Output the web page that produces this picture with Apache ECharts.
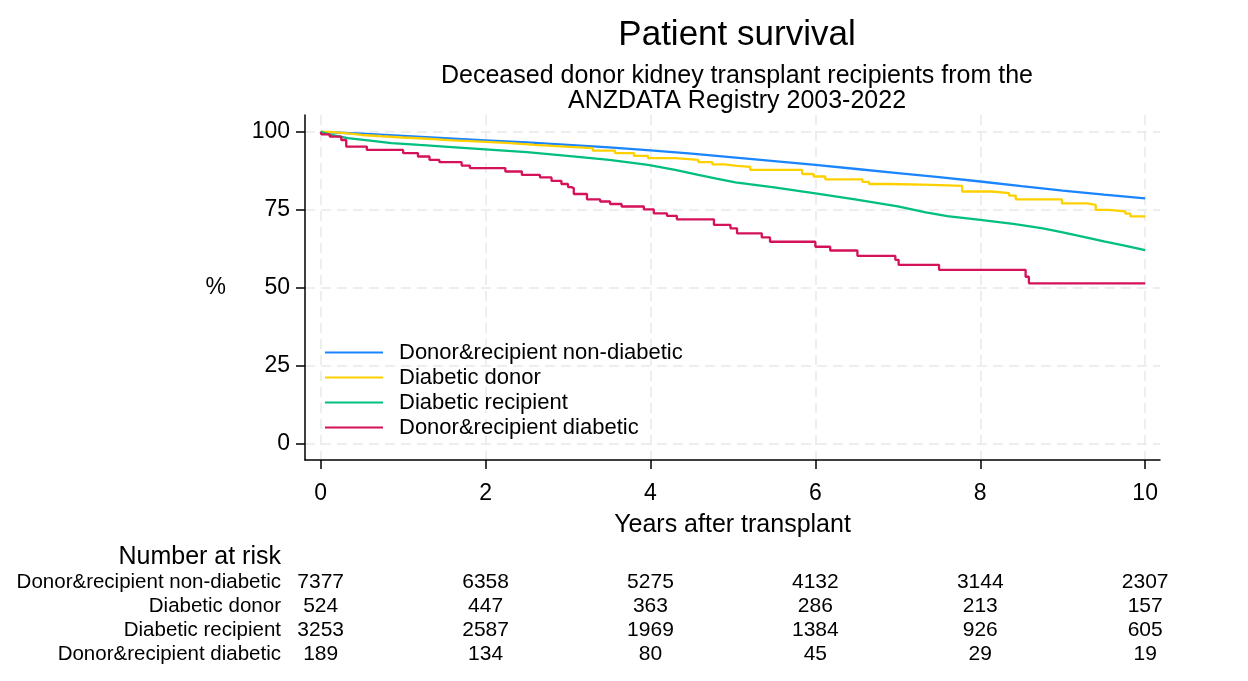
<!DOCTYPE html>
<html>
<head>
<meta charset="utf-8">
<script src="https://cdn.jsdelivr.net/npm/echarts@6/dist/echarts.min.js"></script>
<style>
html,body{margin:0;padding:0;background:#fff;}
#chart{width:1248px;height:681px;}
</style>
</head>
<body>
<div id="chart"></div>
<script>
const seriesNames = ['Donor&recipient non-diabetic','Diabetic donor','Diabetic recipient','Donor&recipient diabetic'];
const seriesColors = ['#1a85ff','#ffd000','#00bf7f','#d41159'];

// Kaplan-Meier estimates: [years, survival %]
const survNonDiabetic = [[0,100],[0.5,99.4],[1,98.7],[1.5,98.0],[2,97.3],[2.5,96.6],[3,95.8],[3.5,95.0],[4,94.1],[4.5,93.0],[5,91.8],[5.5,90.6],[6,89.4],[6.5,88.1],[7,86.8],[7.5,85.5],[8,84.1],[8.5,82.6],[9,81.2],[9.5,79.9],[10,78.7]];
const survDiabeticDonor = [[0,100],[0.1,99.6],[0.3,99.0],[0.5,98.6],[0.74,98.2],[1.0,97.8],[1.3,97.3],[1.6,96.9],[1.95,96.4],[2.3,95.8],[2.6,95.3],[2.96,94.8],[3.3,94.0],[3.57,93.2],[3.8,92.3],[3.97,91.6],[4.3,91.0],[4.58,90.3],[4.75,89.6],[4.9,89.1],[5.05,88.8],[5.21,87.8],[5.84,86.5],[5.98,85.7],[6.12,84.8],[6.57,84.0],[6.65,83.3],[6.89,83.0],[7.42,82.7],[7.78,80.9],[8.14,80.4],[8.35,79.6],[8.43,78.4],[8.99,77.1],[9.3,76.6],[9.40,75.0],[9.56,74.5],[9.76,73.8],[9.82,72.9],[10,72.9]];
const survDiabeticRecipient = [[0,100],[0.1,99.2],[0.33,98.0],[0.6,97.2],[0.86,96.4],[1.2,95.8],[1.5,95.3],[1.95,94.5],[2.5,93.5],[2.96,92.4],[3.5,91.0],[3.97,89.4],[4.3,87.8],[4.58,86.2],[4.8,85.0],[5.03,83.8],[5.5,82.2],[6,80.3],[6.5,78.3],[7,76.1],[7.34,74.2],[7.6,73.0],[8,71.8],[8.4,70.5],[8.76,69.1],[9,67.8],[9.28,66.2],[9.5,64.9],[9.75,63.6],[10,62.1]];
const survDiabeticBoth = [[0,100],[0.01,99.2],[0.11,98.5],[0.25,97.4],[0.31,95.3],[0.56,94.2],[1.0,93.2],[1.18,92.1],[1.32,91.0],[1.44,90.3],[1.71,89.2],[1.81,88.4],[2.24,87.3],[2.44,86.2],[2.66,85.4],[2.80,84.3],[2.92,83.3],[3.0,82.3],[3.04,82.0],[3.07,80.1],[3.23,78.4],[3.39,77.7],[3.51,76.9],[3.65,76.1],[3.92,75.2],[4.04,73.9],[4.20,73.1],[4.32,72.0],[4.77,70.2],[4.97,69.1],[5.05,67.5],[5.35,66.2],[5.45,64.8],[6.0,63.2],[6.18,62.0],[6.51,60.3],[6.97,59.0],[7.01,57.4],[7.50,55.8],[8.55,53.6],[8.59,51.5],[10,51.5]];

const xTicks = [0,2,4,6,8,10];
const yTicks = [0,25,50,75,100];

// Number at risk table
const riskTimes = [0,2,4,6,8,10];
const riskNonDiabetic = [7377,6358,5275,4132,3144,2307];
const riskDiabeticDonor = [524,447,363,286,213,157];
const riskDiabeticRecipient = [3253,2587,1969,1384,926,605];
const riskDiabeticBoth = [189,134,80,45,29,19];

const FONT = '"Liberation Sans", Arial, sans-serif';
const survData = [survNonDiabetic, survDiabeticDonor, survDiabeticRecipient, survDiabeticBoth];
const riskRows = [riskNonDiabetic, riskDiabeticDonor, riskDiabeticRecipient, riskDiabeticBoth];
const stepped = [false, 'end', false, 'end'];

const riskData = [];
riskRows.forEach((row, r) => row.forEach((v, i) => riskData.push([riskTimes[i], r, v])));

const chart = echarts.init(document.getElementById('chart'), null, {renderer:'canvas'});
const option = {
  animation: false,
  backgroundColor: '#fff',
  textStyle: {fontFamily: FONT},
  title: [
    {text: 'Patient survival', left: 732, top: 13, textAlign: 'center',
     textStyle: {fontFamily: FONT, fontSize: 35, fontWeight: 'normal', color: '#000'}},
    {text: 'Deceased donor kidney transplant recipients from the\nANZDATA Registry 2003-2022', left: 732, top: 59, textAlign: 'center',
     textStyle: {fontFamily: FONT, fontSize: 25, fontWeight: 'normal', color: '#000', lineHeight: 25, align: 'center'}}
  ],
  legend: {
    orient: 'vertical', left: 325, top: 340, itemGap: 0, padding: 0,
    itemWidth: 58, itemHeight: 2, icon: 'rect',
    textStyle: {fontFamily: FONT, fontSize: 22, color: '#000', lineHeight: 25, padding: [0,0,0,11]},
    data: seriesNames
  },
  grid: [
    {left: 305, right: 88, top: 115, bottom: 221},
    {left: 305, right: 88, top: 570, height: 96}
  ],
  xAxis: [
    {type: 'value', gridIndex: 0, min: -0.19, max: 10.18,
     name: 'Years after transplant', nameLocation: 'middle', nameGap: 53,
     nameTextStyle: {fontFamily: FONT, fontSize: 25, color: '#000'},
     axisLine: {show: true, onZero: false, lineStyle: {color: '#000', width: 1.5}},
     axisTick: {show: true, length: 9, lineStyle: {color: '#000', width: 1.5}, customValues: xTicks},
     axisLabel: {fontFamily: FONT, fontSize: 23, color: '#000', margin: 22, customValues: xTicks},
     splitLine: {show: true, lineStyle: {color: '#e9e9e9', width: 1.5, type: [10,6]}}},
    {type: 'value', gridIndex: 1, min: -0.19, max: 10.18, show: false}
  ],
  yAxis: [
    {type: 'value', gridIndex: 0, min: -5.1, max: 105.4,
     name: '%', nameLocation: 'middle', nameGap: 79, nameRotate: 0,
     nameTextStyle: {fontFamily: FONT, fontSize: 23, color: '#000'},
     axisLine: {show: true, onZero: false, lineStyle: {color: '#000', width: 1.5}},
     axisTick: {show: true, length: 9, lineStyle: {color: '#000', width: 1.5}, customValues: yTicks},
     axisLabel: {fontFamily: FONT, fontSize: 23, color: '#000', margin: 15, customValues: yTicks},
     splitLine: {show: true, lineStyle: {color: '#e9e9e9', width: 1.5, type: [10,6]}}},
    {type: 'category', gridIndex: 1, data: seriesNames, inverse: true,
     axisLine: {show: false}, axisTick: {show: false}, splitLine: {show: false},
     axisLabel: {fontFamily: FONT, fontSize: 20.5, color: '#000', margin: 24, interval: 0}}
  ],
  graphic: [
    {type: 'text', x: 281, y: 557, style: {text: 'Number at risk', fill: '#000', font: '25px ' + FONT, align: 'right', verticalAlign: 'middle'}}
  ],
  series: seriesNames.map((n, i) => ({
    name: n, type: 'line', xAxisIndex: 0, yAxisIndex: 0,
    data: survData[i], step: stepped[i], symbol: 'none', showSymbol: false,
    lineStyle: {color: seriesColors[i], width: 2.3}, itemStyle: {color: seriesColors[i]},
    emphasis: {disabled: true}, z: 3 + i
  })).concat([{
    type: 'custom', xAxisIndex: 1, yAxisIndex: 1, data: riskData, silent: true,
    renderItem: function (params, api) {
      const p = api.coord([api.value(0), api.value(1)]);
      return {type: 'text', x: p[0], y: p[1],
        style: {text: String(api.value(2)), fill: '#000', font: '21px ' + FONT, align: 'center', verticalAlign: 'middle'}};
    }
  }])
};
chart.setOption(option);
</script>
</body>
</html>
